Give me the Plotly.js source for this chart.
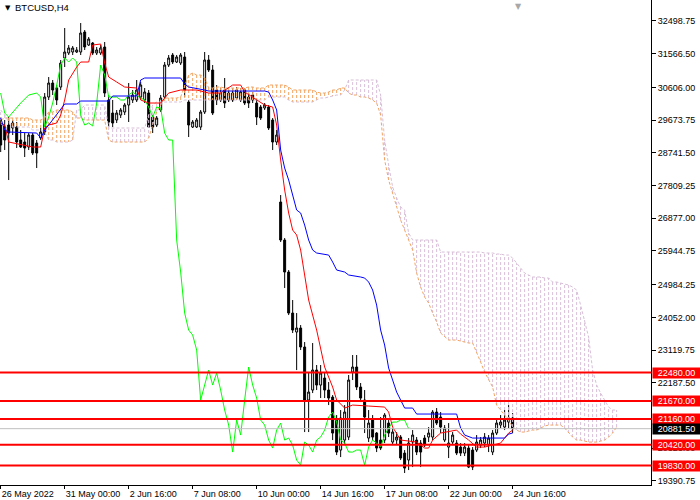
<!DOCTYPE html>
<html>
<head>
<meta charset="utf-8">
<script src="https://cdn.plot.ly/plotly-3.0.1.min.js"></script>
<style>
  html, body { margin: 0; padding: 0; background: #fff; }
  #chart { width: 700px; height: 500px; }
</style>
</head>
<body>
<div id="chart"></div>
<script>
// BTCUSD H4 candles (bar index 0 = first visible bar)
const open = [
  29534, 29477, 29534, 29449, 29477, 29107, 29050, 28907, 29249, 29021,
  29164, 29335, 30332, 30731, 30589, 30617, 31444, 31586, 31615, 31615,
  31615, 32185, 31814, 31871, 31586, 31586, 31757, 30247, 29876, 29677,
  29819, 29905, 30104, 30247, 30247, 30332, 30247, 30446, 29762, 29534,
  29962, 30332, 31244, 31529, 31330, 31301, 31472, 30190, 29477, 29477,
  29477, 29905, 31387, 31102, 30532, 30247, 30532, 30247, 30247, 30304,
  30247, 30532, 30332, 30247, 30161, 30047, 30019, 30047, 29677, 29050,
  27340, 26257, 25345, 24176, 23635, 23749, 23208, 21697, 21982, 22552,
  22124, 22324, 21982, 21782, 21127, 20272, 20557, 20642, 22495, 22638,
  22067, 21697, 20614, 21127, 20756, 20557, 20557, 21041, 20500, 20557,
  20642, 20186, 19987, 20500, 20557, 20471, 20614, 20642, 20642, 21355,
  21212, 20557, 20357, 20500, 20471, 20357, 20186, 20329, 20272, 20272,
  20414, 20471, 20414, 20215, 20756, 20984, 20927, 21070, 21184
];
const high = [
  29762, 29677, 29762, 29677, 29620, 29392, 29306, 29306, 29306, 29107,
  29449, 30446, 30902, 30817, 30674, 31387, 32299, 31814, 31786, 31757,
  32441, 32242, 32042, 31900, 31757, 31814, 31900, 30389, 30247, 29962,
  30019, 30161, 30731, 30532, 30817, 30760, 30589, 30532, 29819, 29791,
  30389, 31330, 31529, 31586, 31529, 31586, 31615, 30247, 29677, 29734,
  29962, 31615, 31529, 31244, 30674, 30589, 30874, 30532, 30589, 30617,
  30589, 30589, 30446, 30475, 30247, 30104, 30161, 30104, 29734, 29392,
  27539, 26314, 25402, 24547, 24176, 23834, 23350, 22495, 23322, 22695,
  22695, 22495, 22210, 21839, 21269, 21412, 21554, 22410, 22980, 22980,
  22182, 21982, 21412, 21269, 20785, 21212, 21326, 21127, 20899, 20785,
  20699, 20272, 20614, 20842, 20642, 20557, 20699, 20927, 21412, 21469,
  21355, 20984, 21041, 20785, 20557, 20471, 20471, 20414, 20357, 20699,
  20642, 20756, 20699, 20842, 21184, 21269, 21412, 21554, 21326
];
const low = [
  28765, 28822, 27967, 29249, 28879, 28879, 28622, 28822, 28679, 28309,
  29107, 29249, 30247, 30389, 30104, 30532, 31187, 31529, 31529, 31586,
  31529, 31672, 31786, 31529, 31529, 31529, 30332, 29477, 29477, 29591,
  29734, 29819, 29620, 30161, 30190, 30247, 30161, 29449, 29306, 29477,
  29905, 30275, 31187, 31273, 31301, 31244, 30332, 29192, 29449, 29449,
  29392, 29848, 31045, 29819, 30104, 30190, 30019, 30190, 30190, 30247,
  30190, 30104, 30019, 30161, 29534, 29677, 29962, 29392, 28822, 28964,
  26200, 24889, 24119, 23607, 22552, 23122, 20785, 20785, 21896, 21982,
  21754, 21754, 21554, 20557, 20129, 20072, 20414, 20557, 22267, 21982,
  21640, 20756, 20500, 20557, 20215, 20272, 20471, 20642, 20414, 20414,
  19987, 19617, 19702, 19787, 20129, 19787, 20357, 20500, 20557, 20984,
  20756, 20500, 20044, 20414, 20129, 20101, 20101, 19759, 19702, 20215,
  20329, 20357, 20215, 20129, 20699, 20899, 20842, 20899, 20756
];
const close = [
  28964, 29107, 29306, 29591, 29050, 28907, 28879, 29249, 28736, 28736,
  29335, 30332, 30731, 30532, 30247, 31301, 31615, 31729, 31729, 31672,
  32156, 31757, 31985, 31586, 31672, 31729, 30446, 29620, 29591, 29876,
  29962, 30104, 30332, 30389, 30532, 30674, 30475, 29477, 29477, 29734,
  30304, 31244, 31444, 31330, 31472, 31529, 30532, 29534, 29620, 29677,
  29905, 31387, 31102, 29876, 30247, 30446, 30161, 30446, 30446, 30532,
  30475, 30161, 30161, 30389, 29762, 29734, 30104, 29449, 29050, 29249,
  26257, 25345, 24176, 23692, 23749, 23208, 21697, 21925, 22552, 22124,
  22467, 21982, 21754, 20756, 20215, 21184, 21355, 22267, 22638, 22067,
  21754, 21212, 21041, 20642, 20329, 20329, 21269, 20756, 20785, 20642,
  20044, 19759, 20471, 20699, 20215, 20215, 20414, 20756, 21355, 21041,
  20927, 20899, 20471, 20699, 20186, 20186, 20357, 19787, 19787, 20500,
  20557, 20642, 20614, 20756, 21041, 21070, 21127, 21184, 20881.5
];

// Ichimoku lines (vertex bar index / price)
const tenkanBar = [0, 1, 2, 8, 10, 11, 12, 14, 15, 16, 17, 19, 20, 22, 23, 25, 26, 27, 29, 31,
  34, 35, 37, 40, 41, 42, 45, 49, 52, 55, 58, 60, 61, 64, 66, 68, 69, 70, 71, 72,
  73, 74, 75, 76, 77, 79, 80, 81, 83, 84, 86, 88, 92, 96, 97, 98, 100, 104, 106, 107,
  108, 110, 114, 115, 117, 119, 121, 123, 125, 126, 127, 128];
const tenkanVal = [29591, 29534, 29050, 28907, 28907, 29449, 29534, 29591, 29819, 30247,
  30817, 31187, 31330, 31330, 31814, 31843, 31301, 30902, 30760, 30617,
  30589, 30247, 30161, 30161, 30304, 30446, 30532, 30532, 30446, 30446,
  30674, 30674, 30475, 30247, 30104, 30047, 29534, 28537, 27682, 27026,
  26542, 26400, 25972, 25260, 24547, 23692, 23208, 22638, 22067, 21697,
  21469, 21554, 21526, 21497, 21355, 20927, 20557, 20500, 20329, 20329,
  20557, 20756, 20842, 20728, 20557, 20357, 20357, 20414, 20471, 20614,
  20756, 20842];

const kijunBar = [0, 1, 2, 9, 10, 11, 12, 13, 14, 15, 16, 19, 20, 27, 28, 34, 35, 36, 45, 46,
  47, 51, 52, 66, 67, 68, 69, 70, 71, 72, 73, 74, 75, 76, 77, 78, 79, 82, 83, 84,
  86, 87, 90, 91, 92, 93, 94, 95, 96, 97, 98, 99, 100, 101, 103, 104, 114, 115, 116, 118,
  126, 127, 128];
const kijunVal = [29734, 29392, 29335, 29306, 29164, 29392, 29534, 29677, 29819, 29962,
  30133, 30133, 30218, 30218, 30361, 30361, 30817, 30874, 30874, 30703,
  30617, 30532, 30503, 30503, 30475, 30247, 29962, 28822, 28309, 27967,
  27539, 27112, 27026, 26684, 26257, 25972, 25887, 25829, 25630, 25402,
  25345, 25260, 25203, 25174, 25060, 24832, 24404, 23692, 23265, 22609,
  22267, 21925, 21697, 21469, 21469, 21298, 21298, 20899, 20699, 20614,
  20614, 20728, 20756];

const chikouBar = [0, 1, 2, 5, 7, 9, 10, 11, 12, 13, 14, 15, 16, 17, 18, 19, 20, 21, 22, 23,
  24, 25, 26, 27, 29, 30, 31, 32, 33, 34, 35, 36, 37, 38, 39, 40, 41, 42, 43, 44,
  45, 46, 47, 48, 49, 50, 51, 52, 53, 54, 55, 56, 57, 58, 59, 60, 61, 62, 63, 64,
  65, 66, 67, 68, 69, 70, 71, 72, 73, 74, 75, 76, 77, 78, 79, 80, 81, 82, 83, 84,
  85, 86, 87, 88, 89, 90, 91, 92, 93, 94, 95, 96, 97, 98, 99, 100, 101, 102];
const chikouVal = [30446, 29876, 29762, 30161, 30389, 30446, 30332, 29477, 29762, 30161,
  30674, 31244, 31444, 31330, 31444, 31330, 29819, 29534, 29591, 29506,
  30161, 31244, 30959, 30332, 30332, 30247, 30247, 30389, 30475, 30389,
  30304, 30247, 30047, 29762, 30047, 30019, 29306, 29107, 29107, 26257,
  25345, 24176, 23692, 23550, 23122, 21697, 22124, 22552, 22124, 22467,
  21982, 21412, 20984, 20215, 21127, 20699, 21697, 22638, 22124, 21754,
  21127, 20984, 20557, 20329, 20842, 21041, 20557, 20614, 20414, 19987,
  19844, 20500, 20414, 20215, 20557, 20642, 20842, 21212, 21355, 21070,
  20557, 20471, 20215, 20215, 20272, 20272, 19844, 20357, 20557, 20471,
  20357, 20699, 20899, 21070, 21070, 21127, 21127, 20881.5];

// Senkou spans, one value per bar (cloud runs 26 bars past the last candle)
const spanA = [
  29677, 29734, 29734, 29734, 29734, 29734, 29734, 29734, 29677, 29677,
  29677, 29734, 29905, 29905, 29962, 29962, 29962, 29962, 29905, 29734,
  29734, 29677, 29677, 29677, 29677, 29677, 29677, 29107, 29050, 29050,
  29050, 29050, 29050, 29050, 29050, 29050, 29050, 29164, 29534, 29905,
  30104, 30304, 30304, 30304, 30304, 30332, 30674, 30959, 31016, 30959,
  30959, 30874, 30589, 30589, 30617, 30617, 30589, 30589, 30589, 30589,
  30589, 30589, 30617, 30617, 30589, 30589, 30589, 30674, 30674, 30674,
  30674, 30674, 30617, 30532, 30532, 30532, 30532, 30532, 30532, 30475,
  30446, 30446, 30475, 30532, 30532, 30589, 30589, 30446, 30389, 30389,
  30332, 30332, 30304, 30247, 30161, 29819, 28537, 27967, 27597, 27254,
  26827, 26542, 26257, 25972, 25317, 24917, 24632, 24461, 24176, 23920,
  23607, 23492, 23407, 23407, 23407, 23378, 23350, 23322, 23322, 23065,
  22780, 22495, 22267, 22067, 21554, 21412, 21269, 21127, 20927, 20842,
  20785, 20785, 20813, 20842, 20842, 20899, 20956, 20984, 20984, 20984,
  20984, 20899, 20756, 20642, 20557, 20557, 20528, 20500, 20500, 20500,
  20528, 20557, 20642, 20756, 20927
];
const spanB = [
  29962, 29819, 29620, 29477, 29477, 29477, 29477, 29477, 29392, 29392,
  29392, 29335, 29107, 29107, 29050, 29050, 29050, 29050, 29107, 29962,
  29962, 30104, 30104, 30104, 30104, 30104, 30104, 29449, 29449, 29449,
  29449, 29449, 29449, 29449, 29449, 29449, 29449, 29819, 30104, 30190,
  30190, 30190, 30190, 30190, 30190, 30190, 30247, 30247, 30247, 30247,
  30247, 30247, 30247, 30247, 30247, 30247, 30247, 30247, 30247, 30247,
  30247, 30247, 30247, 30247, 30247, 30247, 30247, 30332, 30332, 30332,
  30332, 30332, 30247, 30190, 30190, 30190, 30190, 30190, 30190, 30247,
  30304, 30304, 30332, 30361, 30389, 30389, 30532, 30817, 30817, 30817,
  30817, 30817, 30817, 30817, 30817, 30389, 29107, 28394, 27767, 27454,
  27197, 27112, 26456, 26257, 26257, 26257, 26257, 26257, 26257, 26257,
  25915, 25915, 25915, 25915, 25915, 25915, 25915, 25915, 25915, 25915,
  25915, 25887, 25887, 25887, 25858, 25858, 25829, 25829, 25744, 25601,
  25459, 25317, 25260, 25203, 25203, 25203, 25174, 25174, 25060, 25060,
  25031, 25003, 24974, 24917, 24832, 24404, 23977, 23492, 22552, 22124,
  21896, 21697, 21497, 21412, 21412
];

// horizontal levels and axis labels
const levels = [22480, 21670, 21160, 20420, 19830];
const priceTicks = [32498.75, 31566.5, 30606, 29673.75, 28741.5, 27809.25, 26877, 25944.75,
  24984.25, 24052, 23119.75, 22187.5, 20323, 19390.75];
const dateBars = [0, 16, 32, 48, 64, 80, 96, 112, 128];
const dateLabels = ["26 May 2022", "31 May 00:00", "2 Jun 16:00", "7 Jun 08:00", "10 Jun 00:00",
  "14 Jun 16:00", "17 Jun 08:00", "22 Jun 00:00", "24 Jun 16:00"];

const FONT = "Liberation Sans, Arial, sans-serif";
const bars = close.map((_, i) => i);
const lastPrice = close[close.length - 1];

// cloud hatching: one dotted vertical stroke per bar between the two spans
const hatchUp = { x: [], y: [] };
const hatchDn = { x: [], y: [] };
spanA.forEach((a, i) => {
  const b = spanB[i];
  const h = a >= b ? hatchUp : hatchDn;
  h.x.push(i, i, null);
  h.y.push(a, b, null);
});
const spanBars = spanA.map((_, i) => i);

const traces = [
  { x: hatchUp.x, y: hatchUp.y, mode: "lines", line: { color: "#F4A460", width: 1, dash: "3px,2px" } },
  { x: hatchDn.x, y: hatchDn.y, mode: "lines", line: { color: "#D8BFD8", width: 1, dash: "3px,2px" } },
  { x: spanBars, y: spanA, mode: "lines", line: { color: "#F4A460", width: 1, dash: "3px,2px" } },
  { x: spanBars, y: spanB, mode: "lines", line: { color: "#D8BFD8", width: 1, dash: "3px,2px" } },
  {
    type: "candlestick",
    x: bars, open: open, high: high, low: low, close: close,
    increasing: { line: { color: "#000", width: 1 }, fillcolor: "#fff" },
    decreasing: { line: { color: "#000", width: 1 }, fillcolor: "#000" },
    whiskerwidth: 0,
  },
  { x: chikouBar, y: chikouVal, mode: "lines", line: { color: "#00FF00", width: 1 } },
  { x: tenkanBar, y: tenkanVal, mode: "lines", line: { color: "#FF0000", width: 1 } },
  { x: kijunBar, y: kijunVal, mode: "lines", line: { color: "#0000FF", width: 1 } },
];

const shapes = levels.map((lv) => ({
  type: "line", xref: "paper", x0: 0, x1: 1, yref: "y", y0: lv, y1: lv,
  line: { color: "#FF0000", width: 2 },
}));
shapes.unshift({
  type: "line", xref: "paper", x0: 0, x1: 1, yref: "y", y0: lastPrice, y1: lastPrice,
  line: { color: "#C0C0C0", width: 1 },
});

const tag = (value, bg) => ({
  xref: "paper", x: 1, xanchor: "left", xshift: 1,
  yref: "y", y: value, yanchor: "middle",
  text: value.toFixed(2), showarrow: false,
  bgcolor: bg, borderpad: 0, width: 47, height: 10, align: "center",
  font: { family: FONT, size: 9, color: "#fff" },
});

const annotations = levels.map((lv) => tag(lv, "#FF0000"));
annotations.push(tag(lastPrice, "#000"));
annotations.push({
  xref: "paper", yref: "paper", x: 0, y: 1, xanchor: "left", yanchor: "top",
  xshift: 3, yshift: -2, text: "▼", showarrow: false,
  font: { family: "DejaVu Sans", size: 7, color: "#000" },
});
annotations.push({
  xref: "paper", yref: "paper", x: 0, y: 1, xanchor: "left", yanchor: "top",
  xshift: 13, yshift: 0, text: "BTCUSD,H4", showarrow: false,
  font: { family: FONT, size: 9.5, color: "#000" },
});
annotations.push({
  xref: "paper", yref: "paper", x: 518 / 651, y: 1, xanchor: "center", yanchor: "top",
  yshift: 0, text: "▼", showarrow: false,
  font: { family: "DejaVu Sans", size: 8, color: "#A8A8A8" },
});

const layout = {
  width: 700,
  height: 500,
  margin: { l: 0, r: 49, t: 0, b: 15 },
  paper_bgcolor: "#fff",
  plot_bgcolor: "#fff",
  showlegend: false,
  hovermode: false,
  xaxis: {
    range: [-0.175, 162.6],
    tickvals: dateBars,
    ticktext: dateLabels,
    ticks: "outside", ticklen: 3, tickcolor: "#000",
    ticklabelposition: "outside right",
    showline: true, linecolor: "#000", linewidth: 1,
    showgrid: false, zeroline: false,
    rangeslider: { visible: false },
    automargin: false,
    tickfont: { family: FONT, size: 9, color: "#000" },
  },
  yaxis: {
    side: "right",
    range: [19276, 33097],
    tickvals: priceTicks,
    tickformat: ".2f",
    ticks: "outside", ticklen: 4, tickcolor: "#000",
    showline: true, linecolor: "#000", linewidth: 1,
    showgrid: false, zeroline: false,
    automargin: false,
    tickfont: { family: FONT, size: 9, color: "#000" },
  },
  shapes: shapes,
  annotations: annotations,
};

Plotly.newPlot("chart", traces, layout, { displayModeBar: false, staticPlot: true });
</script>
</body>
</html>
